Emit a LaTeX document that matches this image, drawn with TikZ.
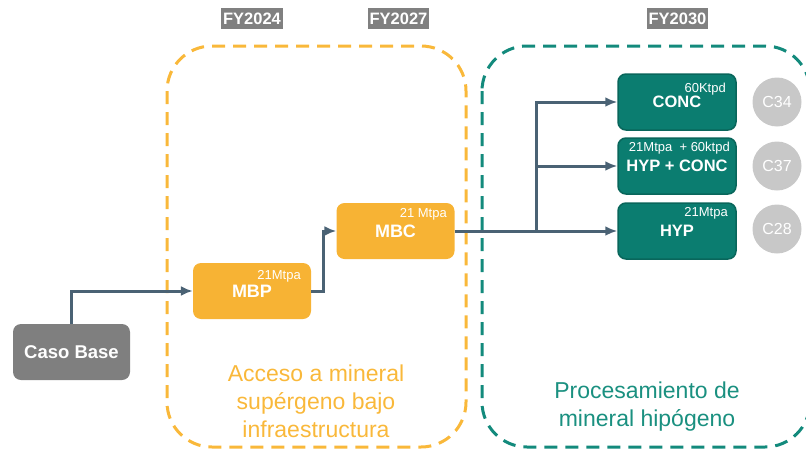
\documentclass[tikz,border=0pt]{standalone}
\usepackage{fontspec}
\setmainfont{Liberation Sans}
\usetikzlibrary{arrows.meta,calc,positioning}

\definecolor{boxorange}{HTML}{F7B334}
\definecolor{zoneorange}{HTML}{F9B83A}
\definecolor{boxteal}{HTML}{0B7D70}
\definecolor{tealedge}{HTML}{09665B}
\definecolor{zoneteal}{HTML}{138A7C}
\definecolor{textteal}{HTML}{1A9080}
\definecolor{basegray}{HTML}{7F7F7F}
\definecolor{fygray}{HTML}{808080}
\definecolor{circgray}{HTML}{C8C8C8}
\definecolor{linkblue}{HTML}{4A6274}

\begin{document}
\begin{tikzpicture}[
  x=1pt, y=-1pt,
  fy/.style={fill=fygray, text=white, font=\bfseries\fontsize{16.5}{18}\selectfont, inner xsep=2pt, minimum height=21pt},
  obox/.style={fill=boxorange, rounded corners=8pt, minimum width=118pt, minimum height=56pt, text=white, font=\bfseries\fontsize{18}{20}\selectfont},
  tbox/.style={fill=boxteal, draw=tealedge, line width=1.5pt, rounded corners=8pt, minimum width=118pt, minimum height=56pt, text=white, font=\bfseries\fontsize{16.5}{19}\selectfont},
  gbox/.style={fill=basegray, rounded corners=8pt, minimum width=117pt, minimum height=56pt, text=white, font=\bfseries\fontsize{18.5}{20}\selectfont},
  rate/.style={anchor=north east, text=white, font=\fontsize{13}{14}\selectfont, inner sep=0pt},
  cost/.style={circle, fill=circgray, minimum size=49pt, inner sep=0pt, text=white, font=\fontsize{16}{18}\selectfont},
  arr/.style={-{Latex[length=12pt,width=10pt]}, line width=3pt, draw=linkblue},
  zone/.style={dash pattern=on 13pt off 8pt, line width=3pt, rounded corners=45pt},
  zonetext/.style={align=center, font=\fontsize{23}{28}\selectfont}
]
\useasboundingbox (0,0) rectangle (806,450);
\clip (0,0) rectangle (806,450);

% Dashed zones
\draw[zone, draw=zoneorange] (167,46) rectangle (466,447);
\draw[zone, draw=zoneteal] (482,46) rectangle (810,447);

\node[zonetext, text=zoneorange] (suptext) at (316,401)
  {Acceso a mineral\\supérgeno bajo\\infraestructura};
\node[zonetext, text=textteal] (hiptext) at (647,407)
  {Procesamiento de\\mineral hipógeno};

% Years
\node[fy] (fy24) at (252,18.5) {FY2024};
\node[fy] (fy27) at (398.5,18.5) {FY2027};
\node[fy] (fy30) at (677.5,18.5) {FY2030};

% Base case and supergene steps
\node[gbox] (base) at (71.5,352) {Caso Base};
\node[obox] (mbp) at (252,291) {MBP};
\node[rate] (mbprate) at (301,270) {21Mtpa};
\node[obox] (mbc) at (395.5,231) {MBC};
\node[rate] (mbcrate) at (447,208) {21 Mtpa};

% Hypogene options
\node[tbox] (conc) at (677,102) {CONC};
\node[rate] (concrate) at (726,83) {60Ktpd};
\node[tbox] (hypconc) at (677,166) {HYP + CONC};
\node[rate] (hypconcrate) at (730,142) {21Mtpa\ \ + 60ktpd};
\node[tbox] (hyp) at (677,231) {HYP};
\node[rate] (hyprate) at (728,207) {21Mtpa};

\node[cost] (c34) at (777,102) {C34};
\node[cost] (c37) at (777,166) {C37};
\node[cost] (c28) at (777,229) {C28};

% Links
\coordinate (split) at (536,231);
\draw[arr] (base.north) |- (mbp.west);
\draw[arr] (mbp.east) -- ++(12,0) |- (mbc.west);
\draw[arr] (mbc.east) -- (hyp.west);
\draw[arr] (split) |- (conc.west);
\draw[arr] (split) |- (hypconc.west);

\end{tikzpicture}
\end{document}
